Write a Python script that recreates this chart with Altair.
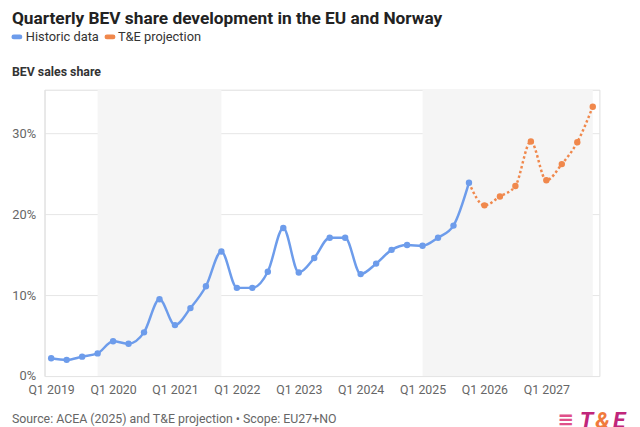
import altair as alt
import pandas as pd

quarters = [
    "Q1 2019", "Q2 2019", "Q3 2019", "Q4 2019",
    "Q1 2020", "Q2 2020", "Q3 2020", "Q4 2020",
    "Q1 2021", "Q2 2021", "Q3 2021", "Q4 2021",
    "Q1 2022", "Q2 2022", "Q3 2022", "Q4 2022",
    "Q1 2023", "Q2 2023", "Q3 2023", "Q4 2023",
    "Q1 2024", "Q2 2024", "Q3 2024", "Q4 2024",
    "Q1 2025", "Q2 2025", "Q3 2025", "Q4 2025",
    "Q1 2026", "Q2 2026", "Q3 2026", "Q4 2026",
    "Q1 2027", "Q2 2027", "Q3 2027", "Q4 2027",
]
historic = [2.2, 2.0, 2.4, 2.8, 4.3, 4.0, 5.4, 9.5, 6.3, 8.4, 11.1, 15.4,
            10.9, 10.9, 12.9, 18.3, 12.8, 14.6, 17.1, 17.1, 12.6, 13.9, 15.6, 16.2,
            16.1, 17.1, 18.6, 23.9]
projection = [21.1, 22.2, 23.5, 29.0, 24.2, 26.2, 28.9, 33.3]
shade_start = ["Q4 2019", "Q1 2025"]
shade_end = ["Q4 2021", "Q4 2027"]
tick_labels = ["Q1 2019", "Q1 2020", "Q1 2021", "Q1 2022", "Q1 2023",
               "Q1 2024", "Q1 2025", "Q1 2026", "Q1 2027"]
y_ticks = [0, 10, 20, 30]
series_names = ["Historic data", "T&E projection"]

BLUE = "#6d9ceb"
ORANGE = "#f0884c"
FONT = "Roboto"

n_hist = len(historic)
hist_df = pd.DataFrame({"idx": list(range(n_hist)), "v": historic, "series": series_names[0]})
proj_line_df = pd.DataFrame({
    "idx": list(range(n_hist - 1, n_hist + len(projection))),
    "v": [historic[-1]] + projection,
    "series": series_names[1],
})
proj_pts_df = pd.DataFrame({
    "idx": list(range(n_hist, n_hist + len(projection))),
    "v": projection,
    "series": series_names[1],
})
pts_df = pd.concat([hist_df, proj_pts_df], ignore_index=True)
shade_df = pd.DataFrame({
    "s": [quarters.index(q) for q in shade_start],
    "e": [quarters.index(q) for q in shade_end],
})

label_arr = "[" + ",".join("'" + q + "'" for q in quarters) + "]"
xscale = alt.Scale(domain=[-0.43, 35.43], nice=False, zero=False)
yscale = alt.Scale(domain=[0, 35.4], nice=False)
series_scale = alt.Scale(domain=series_names, range=[BLUE, ORANGE])

x_axis = alt.Axis(values=[quarters.index(q) for q in tick_labels],
                  labelExpr=label_arr + "[datum.value]", grid=False, domain=False,
                  ticks=False, labelPadding=8, labelFontSize=12.5, labelColor="#666",
                  labelFont=FONT, title=None)
y_axis = alt.Axis(values=y_ticks, labelExpr="datum.value + '%'", grid=True,
                  gridColor="#e6e6e6", domain=True, domainColor="#e2e2e2", ticks=False,
                  labelPadding=9, labelFontSize=13, labelColor="#666", labelFont=FONT,
                  title=None)

shade = alt.Chart(shade_df).mark_rect(color="#f5f5f5").encode(
    x=alt.X("s:Q", scale=xscale, axis=x_axis),
    x2="e:Q",
    y=alt.Y(datum=0, scale=yscale, axis=y_axis),
    y2=alt.Y2(datum=35.4),
)

proj_line = alt.Chart(proj_line_df).mark_line(
    color=ORANGE, strokeWidth=2.5, strokeDash=[2.5, 2.5], interpolate="monotone"
).encode(x=alt.X("idx:Q", scale=xscale), y=alt.Y("v:Q", scale=yscale))

hist_line = alt.Chart(hist_df).mark_line(
    color=BLUE, strokeWidth=2.5, interpolate="monotone"
).encode(x=alt.X("idx:Q", scale=xscale), y=alt.Y("v:Q", scale=yscale))

points = alt.Chart(pts_df).mark_circle(size=42, opacity=1).encode(
    x=alt.X("idx:Q", scale=xscale),
    y=alt.Y("v:Q", scale=yscale),
    fill=alt.Fill("series:N", scale=series_scale, legend=None),
)

# legend (pill swatches + labels), colours taken from the series scale
pill = ("M-0.6,-0.45 L0.6,-0.45 Q1.05,-0.45 1.05,0 Q1.05,0.45 0.6,0.45 "
        "L-0.6,0.45 Q-1.05,0.45 -1.05,0 Q-1.05,-0.45 -0.6,-0.45 Z")
legend_df = pd.DataFrame({"series": series_names})
legend_sym_x = alt.Scale(domain=series_names, range=[-28, 66.3], padding=0)
legend_lab_x = alt.Scale(domain=series_names, range=[-19, 74.3], padding=0)
legend_syms = alt.Chart(legend_df).mark_point(shape=pill, filled=True, opacity=1, size=110,
                                              strokeWidth=0).encode(
    x=alt.X("series:N", scale=legend_sym_x, axis=None),
    y=alt.value(-53.5),
    color=alt.Color("series:N", scale=series_scale, legend=None),
)
legend_labels = alt.Chart(legend_df).mark_text(
    align="left", baseline="alphabetic", fontSize=13, color="#333", font=FONT
).encode(
    x=alt.X("series:N", scale=legend_lab_x, axis=None),
    y=alt.value(-49.3),
    text="series:N",
)


def text_layer(txt, x, y, size, color, weight="normal", style="normal", align="left", font=FONT):
    return alt.Chart(pd.DataFrame({"t": [txt]})).mark_text(
        align=align, baseline="alphabetic", fontSize=size, color=color,
        fontWeight=weight, fontStyle=style, font=font
    ).encode(text="t:N", x=alt.value(x), y=alt.value(y))


title = text_layer("Quarterly BEV share development in the EU and Norway", -33, -67, 17.5, "#222", "bold")
ylabel = text_layer("BEV sales share", -33, -13.5, 12.5, "#333", "bold")
footer = text_layer("Source: ACEA (2025) and T&E projection \u2022 Scope: EU27+NO", -33, 338, 12.5, "#666")
logo_bars = text_layer("\u2261", 528, 341, 20, "#e0508a", "bold", align="center", font="DejaVu Sans")
logo_t = text_layer("T", 549, 343, 23, "#c0267a", "bold", "italic", align="center")
logo_amp = text_layer("&", 565, 343, 23, "#f07a3c", "bold", "italic", align="center")
logo_e = text_layer("E", 582, 343, 23, "#c0267a", "bold", "italic", align="center")

main = alt.layer(shade, proj_line, hist_line, points)
legend = alt.layer(legend_syms, legend_labels).resolve_scale(x="independent")

chart = alt.layer(
    main, legend, title, ylabel, footer, logo_bars, logo_t, logo_amp, logo_e
).resolve_scale(x="independent").properties(
    width=562, height=290, autosize="none",
    padding={"left": 37, "top": 80, "right": 33, "bottom": 60},
).configure_view(stroke=None).configure(font=FONT)

chart.save("out.html", embed_options={"renderer": "svg", "actions": False})
